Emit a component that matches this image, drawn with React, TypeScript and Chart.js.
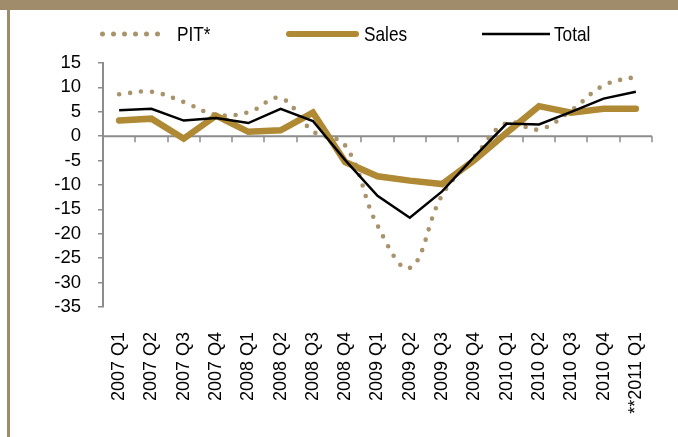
import React, { useEffect, useRef } from "react";
import { Chart, registerables } from "chart.js";

Chart.register(...registerables);

const categories = [
  "2007 Q1", "2007 Q2", "2007 Q3", "2007 Q4",
  "2008 Q1", "2008 Q2", "2008 Q3", "2008 Q4",
  "2009 Q1", "2009 Q2", "2009 Q3", "2009 Q4",
  "2010 Q1", "2010 Q2", "2010 Q3", "2010 Q4",
  "**2011 Q1",
];

const pitValues = [8.6, 9.1, 7.0, 4.4, 4.9, 7.8, 1.0, -1.9, -18.3, -27.0, -12.1, -4.2, 2.7, 1.4, 5.3, 10.4, 12.2];
const salesValues = [3.2, 3.6, -0.5, 4.2, 0.9, 1.2, 4.85, -5.3, -8.2, -9.1, -9.8, -4.9, 0.7, 6.15, 4.8, 5.6, 5.6];
const totalValues = [5.3, 5.6, 3.2, 3.75, 2.7, 5.6, 3.1, -4.9, -12.2, -16.7, -11.3, -4.2, 2.6, 2.4, 5.0, 7.7, 9.1];

const seriesNames = ["PIT*", "Sales", "Total"];
const yMin = -35;
const yMax = 15;
const yStep = 5;

const AXIS_GRAY = "#8c8c8c";
const PIT_COLOR = "#a8936b";
const SALES_COLOR = "#b08934";
const TOTAL_COLOR = "#000000";
const FRAME_COLOR = "#a08c6a";

function hasFont(ctx: CanvasRenderingContext2D, family: string) {
  const probe = "Sales PIT* Total 0123";
  ctx.font = `21px "${family}", monospace`;
  const a = ctx.measureText(probe).width;
  ctx.font = "21px monospace";
  const b = ctx.measureText(probe).width;
  return Math.abs(a - b) > 0.5;
}

const zeroAxisPlugin = {
  id: "zeroAxis",
  beforeDatasetsDraw(chart: any) {
    const { ctx, chartArea, scales } = chart;
    const x = scales.x;
    const y = scales.y;
    const y0 = y.getPixelForValue(0);
    ctx.save();
    ctx.strokeStyle = AXIS_GRAY;
    ctx.lineWidth = 2;
    ctx.beginPath();
    ctx.moveTo(chartArea.left, y0);
    ctx.lineTo(chartArea.right, y0);
    ctx.stroke();
    const half = (x.getPixelForValue(1) - x.getPixelForValue(0)) / 2;
    ctx.lineWidth = 1.5;
    ctx.beginPath();
    for (let i = 0; i < categories.length; i++) {
      const px = Math.round(x.getPixelForValue(i) + half);
      ctx.moveTo(px, y0);
      ctx.lineTo(px, y0 + 6);
    }
    ctx.stroke();
    ctx.restore();
  },
};

const legendPlugin = {
  id: "customLegend",
  afterDraw(chart: any) {
    const ctx: CanvasRenderingContext2D = chart.ctx;
    const narrow = hasFont(ctx, "Liberation Sans Narrow");
    const lineY = 34;
    const textY = 41;
    const items = [
      { name: seriesNames[0], kind: "dots", x0: 102.5, x1: 157.5, tx: 177 },
      { name: seriesNames[1], kind: "thick", x0: 289, x1: 356, tx: 364 },
      { name: seriesNames[2], kind: "thin", x0: 482, x1: 550, tx: 554 },
    ];
    ctx.save();
    for (const it of items) {
      ctx.save();
      if (it.kind === "dots") {
        ctx.fillStyle = PIT_COLOR;
        for (let px = it.x0; px <= it.x1 + 0.1; px += 11) {
          ctx.beginPath();
          ctx.arc(px, lineY, 2.5, 0, Math.PI * 2);
          ctx.fill();
        }
      } else {
        ctx.strokeStyle = it.kind === "thick" ? SALES_COLOR : TOTAL_COLOR;
        ctx.lineWidth = it.kind === "thick" ? 6 : 2.5;
        ctx.lineCap = it.kind === "thick" ? "round" : "butt";
        ctx.beginPath();
        ctx.moveTo(it.x0, lineY);
        ctx.lineTo(it.x1, lineY);
        ctx.stroke();
      }
      ctx.restore();
      ctx.save();
      ctx.fillStyle = "#000";
      ctx.textBaseline = "alphabetic";
      ctx.textAlign = "left";
      if (narrow) {
        ctx.font = '21px "Liberation Sans Narrow"';
        ctx.fillText(it.name, it.tx, textY);
      } else {
        ctx.font = '21px "Liberation Sans", Arial, sans-serif';
        ctx.translate(it.tx, textY);
        ctx.scale(0.82, 1);
        ctx.fillText(it.name, 0, 0);
      }
      ctx.restore();
    }
    ctx.restore();
  },
};

export default function App() {
  const canvasRef = useRef<HTMLCanvasElement | null>(null);

  useEffect(() => {
    document.body.style.margin = "0";
    const canvas = canvasRef.current;
    if (!canvas) return;
    const chart = new Chart(canvas, {
      type: "line",
      data: {
        labels: categories,
        datasets: [
          {
            label: seriesNames[0],
            data: pitValues,
            borderColor: PIT_COLOR,
            borderWidth: 4.6,
            borderDash: [0, 11],
            borderCapStyle: "round",
            tension: 0.4,
            pointRadius: 0,
            fill: false,
            order: 2,
          },
          {
            label: seriesNames[1],
            data: salesValues,
            borderColor: SALES_COLOR,
            borderWidth: 6.5,
            borderCapStyle: "round",
            borderJoinStyle: "miter",
            tension: 0,
            pointRadius: 0,
            fill: false,
            order: 1,
          },
          {
            label: seriesNames[2],
            data: totalValues,
            borderColor: TOTAL_COLOR,
            borderWidth: 2.5,
            tension: 0,
            pointRadius: 0,
            fill: false,
            order: 0,
          },
        ],
      },
      options: {
        responsive: false,
        animation: false,
        devicePixelRatio: 1,
        layout: { padding: { top: 63, left: 10, right: 26, bottom: 0 } },
        plugins: {
          legend: { display: false },
          tooltip: { enabled: false },
        },
        scales: {
          x: {
            offset: true,
            grid: { display: false, drawTicks: false, offset: true },
            border: { display: false },
            ticks: {
              autoSkip: false,
              maxRotation: 90,
              minRotation: 90,
              padding: 25,
              color: "#000",
              font: { family: '"Liberation Sans", Arial, sans-serif', size: 18 },
            },
            afterFit(scale: any) {
              scale.height = 130;
              scale.paddingLeft = 0;
              scale.paddingRight = 0;
            },
          },
          y: {
            min: yMin,
            max: yMax,
            ticks: {
              stepSize: yStep,
              autoSkip: false,
              padding: 17,
              color: "#000",
              font: { family: '"Liberation Sans", Arial, sans-serif', size: 18.5 },
            },
            grid: {
              drawOnChartArea: false,
              drawTicks: true,
              tickLength: 5,
              color: AXIS_GRAY,
              lineWidth: 1.5,
            },
            border: { display: true, color: AXIS_GRAY, width: 2 },
            afterFit(scale: any) {
              scale.width = 93;
            },
          },
        },
      },
      plugins: [zeroAxisPlugin, legendPlugin],
    });
    return () => chart.destroy();
  }, []);

  return (
    <div style={{ position: "fixed", left: 0, top: 0, width: 678, height: 437, background: "#fff", overflow: "hidden" }}>
      <div style={{ position: "absolute", left: 0, top: 0, width: 678, height: 10, background: FRAME_COLOR }} />
      <div style={{ position: "absolute", left: 7, top: 0, width: 3, height: 437, background: FRAME_COLOR }} />
      <canvas ref={canvasRef} width={678} height={437} style={{ position: "absolute", left: 0, top: 0, display: "block" }} />
    </div>
  );
}
